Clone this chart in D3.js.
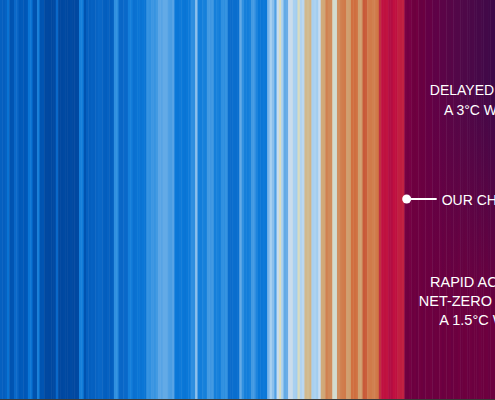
<!DOCTYPE html>
<html><head><meta charset="utf-8">
<script src="https://cdn.jsdelivr.net/npm/d3@7/dist/d3.min.js"></script>
<style>html,body{margin:0;padding:0;background:#fff;overflow:hidden}svg{display:block}</style>
</head><body>
<svg id="chart" width="495" height="400"></svg>
<script>
const histYears = d3.range(1850, 2024);
const histAnom = [
 -0.40,-0.41,-0.39,-0.28,-0.50,-0.49,-0.35,-0.36,-0.45,-0.44,
 -0.46,-0.45,-0.27,-0.28,-0.50,-0.51,-0.22,-0.50,-0.49,-0.60,
 -0.59,-0.61,-0.60,-0.58,-0.35,-0.60,-0.61,-0.59,-0.62,-0.60,
 -0.58,-0.61,-0.60,-0.59,-0.22,-0.23,-0.50,-0.40,-0.41,-0.39,
 -0.40,-0.38,-0.35,-0.36,-0.40,-0.41,-0.39,-0.42,-0.40,-0.15,
 -0.16,-0.35,-0.36,-0.34,-0.35,-0.22,-0.23,-0.30,-0.29,-0.27,
 -0.28,-0.26,-0.27,-0.14,-0.15,-0.13,-0.14,-0.12,-0.08,-0.09,
 -0.07,-0.07,-0.10,-0.11,-0.09,-0.25,-0.26,-0.24,-0.25,-0.27,
 -0.25,-0.24,-0.15,-0.16,0.00,-0.22,-0.23,-0.21,-0.22,-0.12,
 -0.13,-0.12,-0.22,-0.21,-0.23,-0.15,-0.16,-0.14,-0.32,-0.33,
 -0.31,-0.32,-0.30,-0.07,-0.15,-0.22,-0.23,-0.21,-0.12,-0.13,
 -0.20,-0.25,-0.26,-0.24,-0.25,-0.03,0.05,0.00,-0.10,0.12,
 0.20,0.05,-0.07,-0.06,0.12,0.13,0.05,0.04,0.20,0.07,
 0.09,0.28,0.27,0.29,0.05,0.06,0.04,0.12,0.32,0.33,
 0.45,0.42,0.41,0.18,0.17,0.40,0.44,0.46,0.47,0.35,
 0.36,0.50,0.51,0.49,0.35,0.36,0.60,0.58,0.46,0.47,
 0.45,0.46,0.48,0.75,0.85,0.86,0.84,0.95,0.94,0.85,
 0.86,0.80,0.81,0.80
];
// Future scenarios (°C), 2024-2062
const futureYears = d3.range(2024, 2063);
const delayedAction = [
 1.32,1.38,1.35,1.42,1.45,1.40,1.50,1.52,1.48,1.58,
 1.60,1.56,1.66,1.70,1.65,1.74,1.78,1.75,1.84,1.88,
 1.84,1.92,1.96,1.93,2.02,2.06,2.02,2.10,2.15,2.12,
 2.20,2.25,2.22,2.30,2.35,2.32,2.40,2.45,2.50
];
const rapidAction = [
 1.40,1.44,1.38,1.46,1.42,1.48,1.40,1.45,1.50,1.43,
 1.47,1.41,1.49,1.44,1.46,1.40,1.48,1.43,1.47,1.42,
 1.50,1.44,1.46,1.41,1.48,1.45,1.43,1.49,1.42,1.46,
 1.44,1.48,1.41,1.47,1.45,1.43,1.49,1.44,1.46
];
// Colour palette stops
const paletteStops = [-0.60,-0.45,-0.35,-0.25,-0.15,-0.05,0.05,0.12,0.20,0.30,0.40,0.50,0.60,0.70,0.85,1.10,1.35,1.45,1.60,2.00,2.50];
const paletteColors = ["#0048a0","#0058b8","#0a68c8","#0a78d8","#3090e0","#70b0e8","#a8d0f0","#c8dcf0","#d8dcc0","#d0b080","#d09060","#d07040","#c85a3a","#c04040","#c01040","#a00848","#760044","#6c003e","#620046","#500848","#3c0848"];
// Labels
const delayedLines = ["DELAYED ACTION", "A 3°C WORLD"];
const choiceLabel = "OUR CHOICE";
const rapidLines = ["RAPID ACTION TO", "NET-ZERO LEADS TO", "A 1.5°C WORLD"];

const W = 495, H = 400;
const svg = d3.select("#chart");
const allYears = histYears.concat(futureYears);
const x = d3.scaleBand().domain(allYears).range([0, W]).paddingInner(0).paddingOuter(0);
const color = d3.scaleLinear().domain(paletteStops).range(paletteColors).interpolate(d3.interpolateRgb).clamp(true);
const bw = x.bandwidth();

// Historical stripes
svg.append("g").selectAll("rect").data(histYears).join("rect")
  .attr("x", d => x(d)).attr("y", 0)
  .attr("width", bw + 0.5).attr("height", H)
  .attr("fill", (d, i) => color(histAnom[i]));

// Future stripes with vertical blend between scenarios
const defs = svg.append("defs");
futureYears.forEach((yr, i) => {
  const g = defs.append("linearGradient").attr("id", "fg" + i)
    .attr("x1", 0).attr("y1", 0).attr("x2", 0).attr("y2", 1);
  g.append("stop").attr("offset", "0.2").attr("stop-color", color(delayedAction[i]));
  g.append("stop").attr("offset", "0.8").attr("stop-color", color(rapidAction[i]));
});
svg.append("g").selectAll("rect").data(futureYears).join("rect")
  .attr("x", d => x(d)).attr("y", 0)
  .attr("width", bw + 0.5).attr("height", H)
  .attr("fill", (d, i) => `url(#fg${i})`);

// bottom edge line
svg.append("rect").attr("x", 0).attr("y", H - 1).attr("width", W).attr("height", 1).attr("fill", "#3a3a3a");

const font = "'Liberation Sans', Arial, Helvetica, sans-serif";
svg.append("g").selectAll("text").data(delayedLines).join("text")
  .attr("x", 490).attr("y", (d, i) => 95 + i * 20)
  .attr("text-anchor", "middle").attr("fill", "#fff")
  .style("font-family", font).style("font-size", "14px").text(d => d);

svg.append("g").selectAll("text").data(rapidLines).join("text")
  .attr("x", 493).attr("y", (d, i) => 287 + i * 19)
  .attr("text-anchor", "middle").attr("fill", "#fff")
  .style("font-family", font).style("font-size", "14.5px").text(d => d);

// Present marker
const nowX = x(2023) + bw * 2;
svg.append("line").attr("x1", nowX).attr("x2", nowX + 30).attr("y1", 199).attr("y2", 199)
  .attr("stroke", "#fff").attr("stroke-width", 2);
svg.append("circle").attr("cx", nowX).attr("cy", 199).attr("r", 4.5).attr("fill", "#fff");
svg.append("text").attr("x", nowX + 35).attr("y", 205).attr("fill", "#fff")
  .style("font-family", font).style("font-size", "14px").text(choiceLabel);
</script>
</body></html>
